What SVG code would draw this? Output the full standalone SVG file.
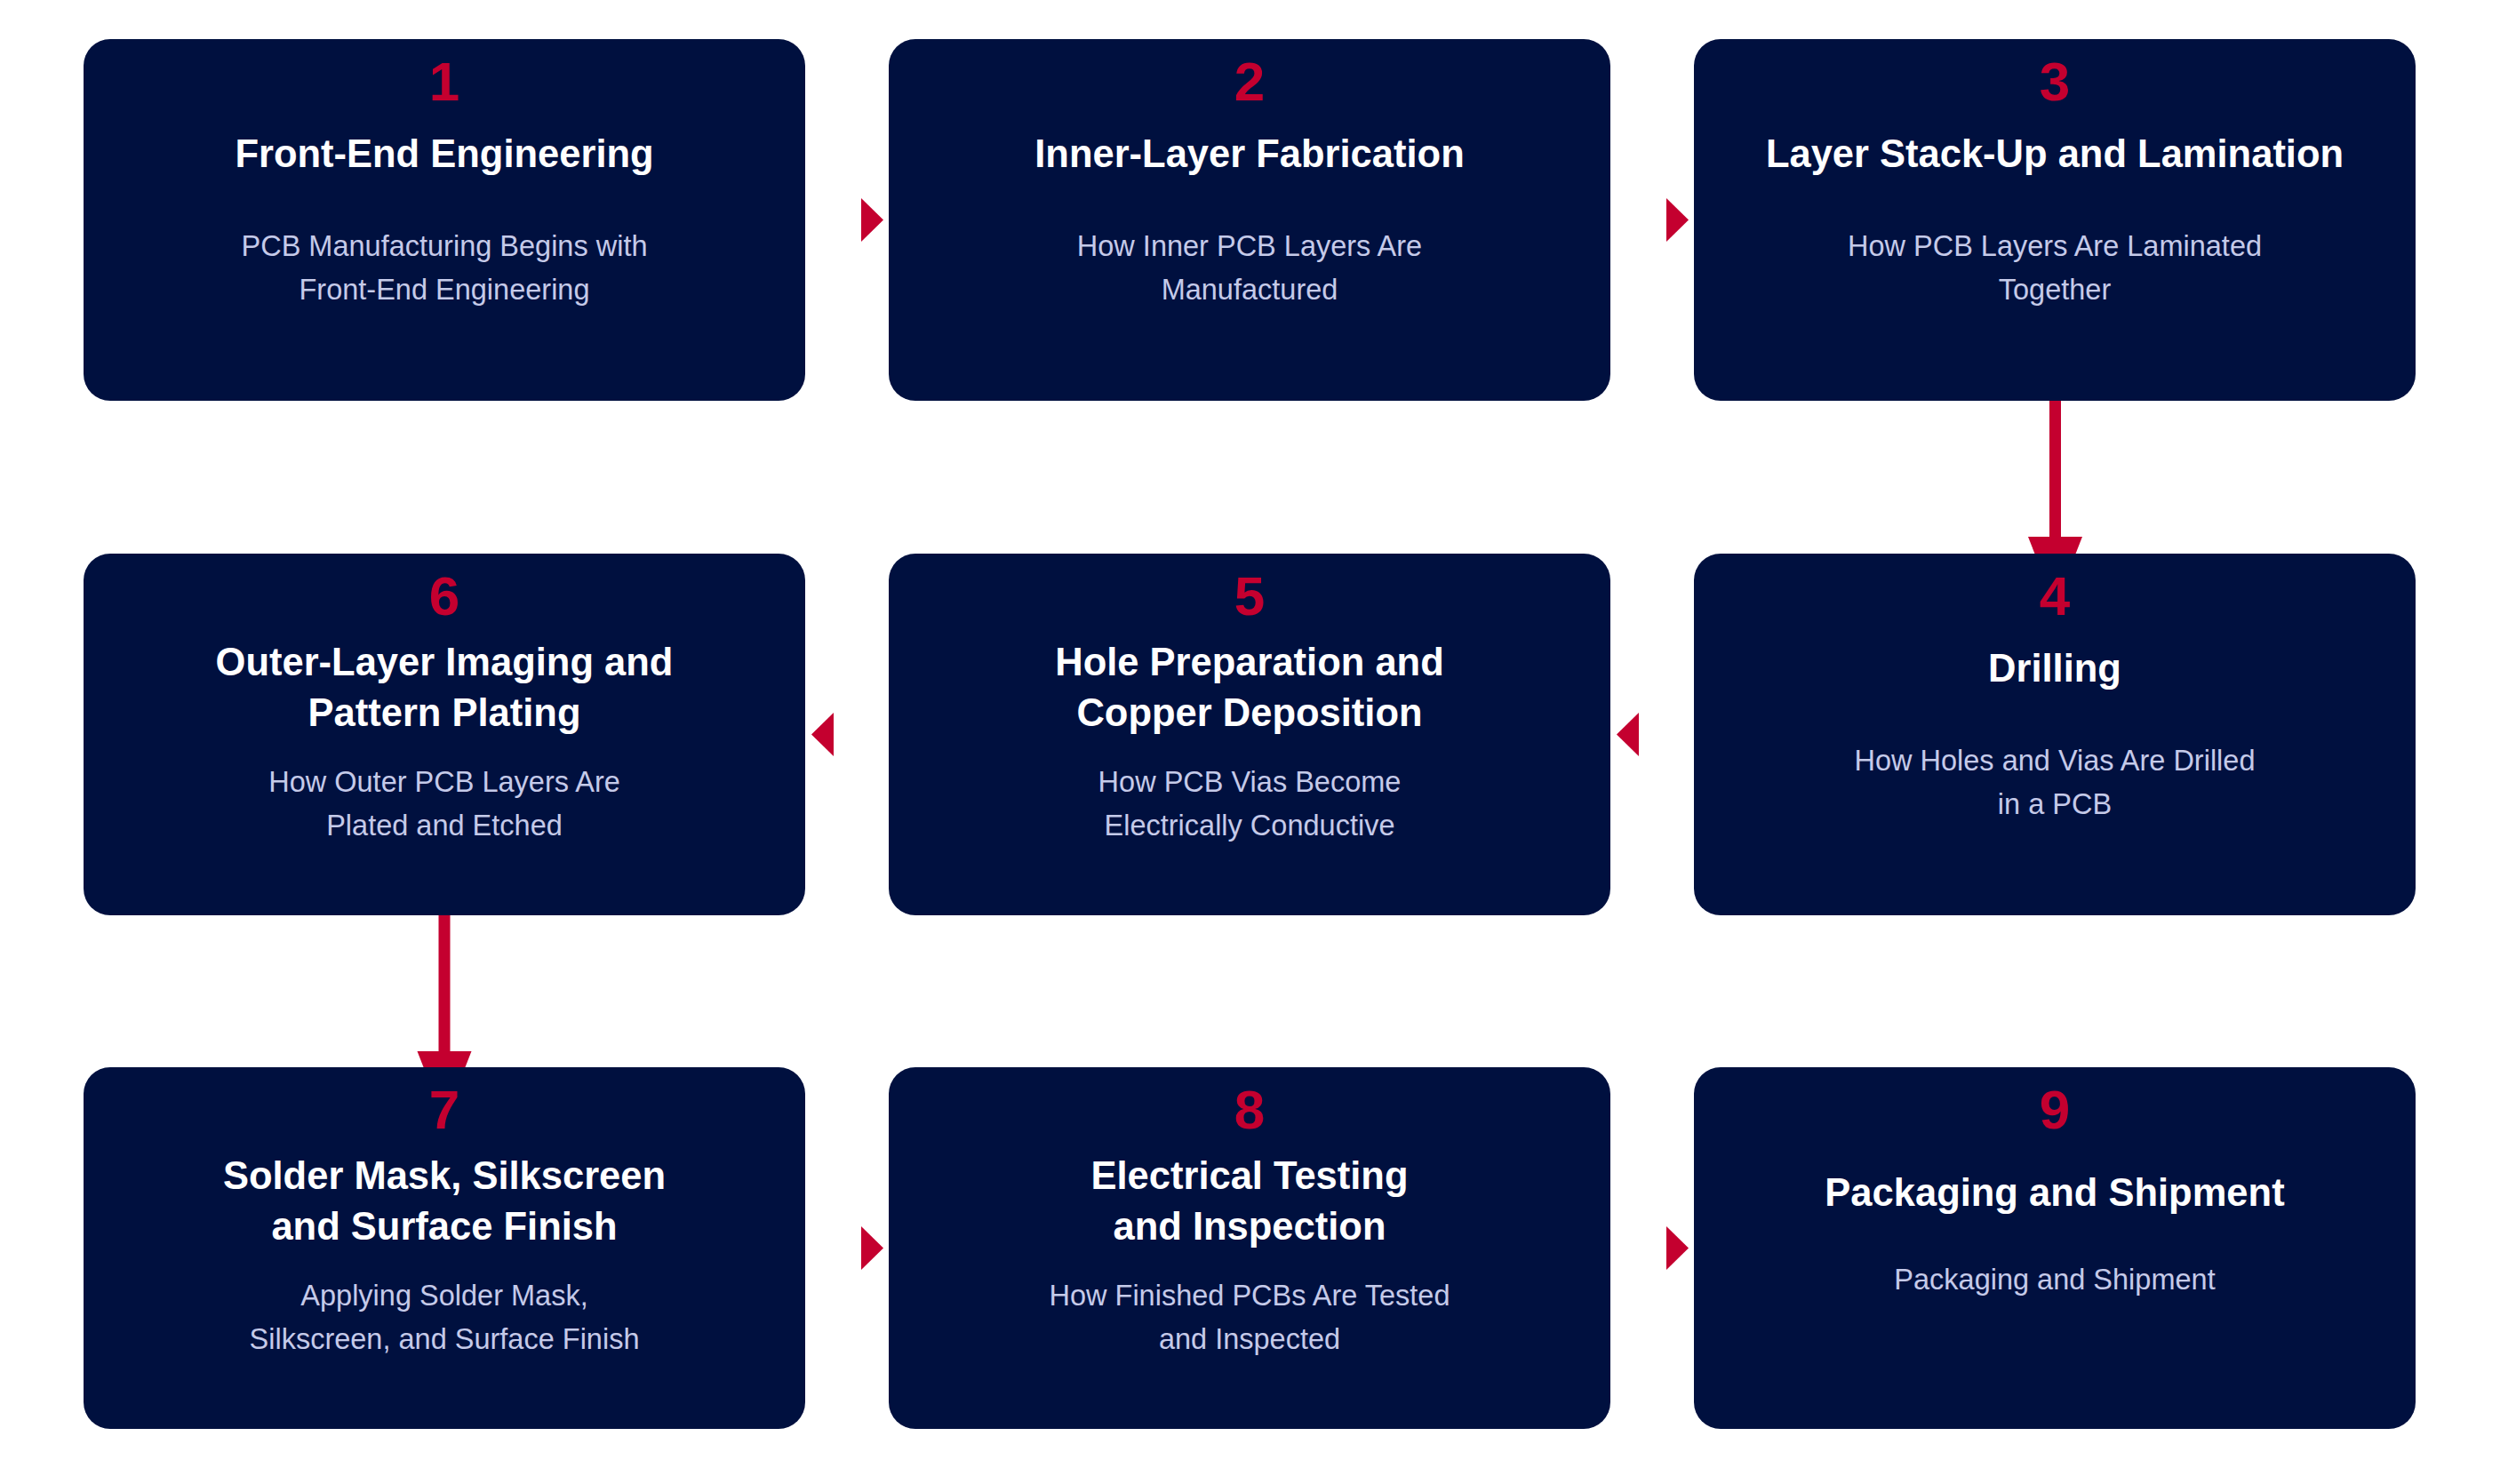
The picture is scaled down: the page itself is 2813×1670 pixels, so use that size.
<svg xmlns="http://www.w3.org/2000/svg" width="2813" height="1670" viewBox="0 0 2813 1670">
<style>
.box{fill:#00103F;}
.num{font-family:"Liberation Sans",Arial,sans-serif;font-weight:700;font-size:62px;fill:#C4002F;text-anchor:middle;}
.ttl{font-family:"Liberation Sans",Arial,sans-serif;font-weight:700;font-size:43.5px;fill:#FFFFFF;text-anchor:middle;}
.sub{font-family:"Liberation Sans",Arial,sans-serif;font-size:32.5px;fill:#C5CAE9;text-anchor:middle;}
.arr{fill:#C4002F;}
.vline{stroke:#C4002F;stroke-width:13;fill:none;}
</style>
<rect x="0" y="0" width="2813" height="1670" fill="#FFFFFF"/>
<g id="connectors">
<polygon class="arr" points="969,223 969,272 994,247.5"/>
<polygon class="arr" points="1875,223 1875,272 1900,247.5"/>
<line class="vline" x1="2312.5" y1="450" x2="2312.5" y2="606"/>
<polygon class="arr" points="2282,604 2343,604 2312.5,682"/>
<polygon class="arr" points="1844,802 1844,851 1819,826.5"/>
<polygon class="arr" points="938,802 938,851 913,826.5"/>
<line class="vline" x1="500" y1="1029" x2="500" y2="1185"/>
<polygon class="arr" points="469.5,1183 530.5,1183 500,1261"/>
<polygon class="arr" points="969,1380 969,1429 994,1404.5"/>
<polygon class="arr" points="1875,1380 1875,1429 1900,1404.5"/>
</g>
<g id="node1">
<rect class="box" x="94" y="44" width="812" height="407" rx="30"/>
<text class="num" x="500" y="113">1</text>
<text class="ttl" x="500" y="188">Front-End Engineering</text>
<text class="sub" x="500" y="288">PCB Manufacturing Begins with</text>
<text class="sub" x="500" y="337">Front-End Engineering</text>
</g>
<g id="node2">
<rect class="box" x="1000" y="44" width="812" height="407" rx="30"/>
<text class="num" x="1406" y="113">2</text>
<text class="ttl" x="1406" y="188">Inner-Layer Fabrication</text>
<text class="sub" x="1406" y="288">How Inner PCB Layers Are</text>
<text class="sub" x="1406" y="337">Manufactured</text>
</g>
<g id="node3">
<rect class="box" x="1906" y="44" width="812" height="407" rx="30"/>
<text class="num" x="2312" y="113">3</text>
<text class="ttl" x="2312" y="188">Layer Stack-Up and Lamination</text>
<text class="sub" x="2312" y="288">How PCB Layers Are Laminated</text>
<text class="sub" x="2312" y="337">Together</text>
</g>
<g id="node4">
<rect class="box" x="1906" y="623" width="812" height="407" rx="30"/>
<text class="num" x="2312" y="692">4</text>
<text class="ttl" x="2312" y="767">Drilling</text>
<text class="sub" x="2312" y="867">How Holes and Vias Are Drilled</text>
<text class="sub" x="2312" y="916">in a PCB</text>
</g>
<g id="node5">
<rect class="box" x="1000" y="623" width="812" height="407" rx="30"/>
<text class="num" x="1406" y="692">5</text>
<text class="ttl" x="1406" y="760">Hole Preparation and</text>
<text class="ttl" x="1406" y="817">Copper Deposition</text>
<text class="sub" x="1406" y="891">How PCB Vias Become</text>
<text class="sub" x="1406" y="940">Electrically Conductive</text>
</g>
<g id="node6">
<rect class="box" x="94" y="623" width="812" height="407" rx="30"/>
<text class="num" x="500" y="692">6</text>
<text class="ttl" x="500" y="760">Outer-Layer Imaging and</text>
<text class="ttl" x="500" y="817">Pattern Plating</text>
<text class="sub" x="500" y="891">How Outer PCB Layers Are</text>
<text class="sub" x="500" y="940">Plated and Etched</text>
</g>
<g id="node7">
<rect class="box" x="94" y="1201" width="812" height="407" rx="30"/>
<text class="num" x="500" y="1270">7</text>
<text class="ttl" x="500" y="1338">Solder Mask, Silkscreen</text>
<text class="ttl" x="500" y="1395">and Surface Finish</text>
<text class="sub" x="500" y="1469">Applying Solder Mask,</text>
<text class="sub" x="500" y="1518">Silkscreen, and Surface Finish</text>
</g>
<g id="node8">
<rect class="box" x="1000" y="1201" width="812" height="407" rx="30"/>
<text class="num" x="1406" y="1270">8</text>
<text class="ttl" x="1406" y="1338">Electrical Testing</text>
<text class="ttl" x="1406" y="1395">and Inspection</text>
<text class="sub" x="1406" y="1469">How Finished PCBs Are Tested</text>
<text class="sub" x="1406" y="1518">and Inspected</text>
</g>
<g id="node9">
<rect class="box" x="1906" y="1201" width="812" height="407" rx="30"/>
<text class="num" x="2312" y="1270">9</text>
<text class="ttl" x="2312" y="1357">Packaging and Shipment</text>
<text class="sub" x="2312" y="1451">Packaging and Shipment</text>
</g>
</svg>
